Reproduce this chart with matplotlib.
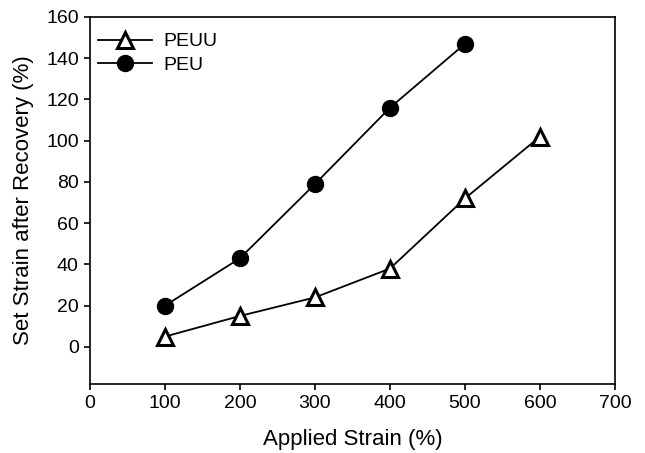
import matplotlib
matplotlib.use("Agg")
import matplotlib.pyplot as plt

plt.rcParams['font.family'] = ['Liberation Sans', 'DejaVu Sans']

peuu_x = [100, 200, 300, 400, 500, 600]
peuu_y = [5, 15, 24, 38, 72, 102]
peu_x = [100, 200, 300, 400, 500]
peu_y = [20, 43, 79, 116, 147]
xticks = [0, 100, 200, 300, 400, 500, 600, 700]
yticks = [0, 20, 40, 60, 80, 100, 120, 140, 160]

fig = plt.figure(figsize=(6.45, 4.53), dpi=100)
ax = fig.add_axes([0.1395, 0.1523, 0.814, 0.8102])

ax.plot(peuu_x, peuu_y, color='black', lw=1.3, marker='^', ms=11,
        mfc='white', mec='black', mew=2.2, label='PEUU')
ax.plot(peu_x, peu_y, color='black', lw=1.3, marker='o', ms=11.5,
        mfc='black', mec='black', label='PEU')

ax.set_xlim(0, 700)
ax.set_ylim(-18, 160)
ax.set_xticks(xticks)
ax.set_yticks(yticks)
ax.tick_params(direction='out', length=4.5, width=1.2, labelsize=14, pad=3.5,
               top=False, right=False)
for s in ax.spines.values():
    s.set_linewidth(1.2)

ax.set_xlabel('Applied Strain (%)', fontsize=16, labelpad=12)
ax.set_ylabel('Set Strain after Recovery (%)', fontsize=16, labelpad=9)

ax.legend(loc='upper left', bbox_to_anchor=(0.0, 0.978), frameon=False,
          fontsize=14, handlelength=2.8, borderaxespad=0.0, borderpad=0.4,
          handletextpad=0.6, labelspacing=0.3)

fig.savefig('out.png', dpi=100)
